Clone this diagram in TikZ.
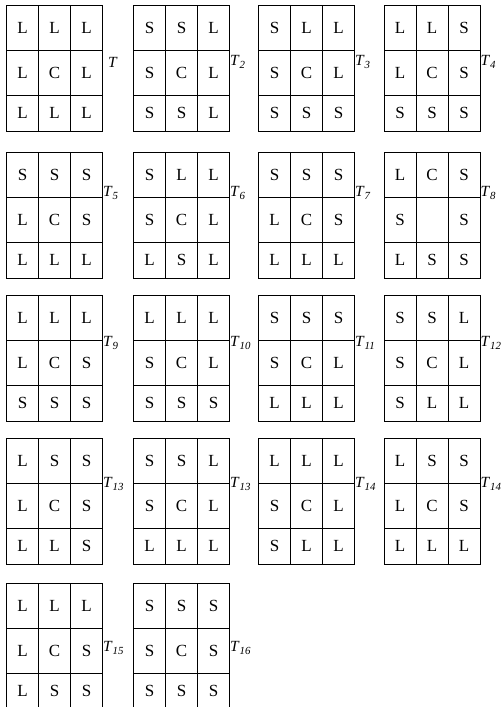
\documentclass[tikz,border=0pt]{standalone}
\usepackage{fontspec}
\setmainfont{Liberation Serif}
\tikzset{
  cell/.style={draw, line width=1pt, minimum width=32pt, inner sep=0pt, anchor=north west,
    font=\fontsize{17}{17}\selectfont},
  tlab/.style={anchor=west, inner sep=1pt, font=\fontsize{15.5}{15.5}\selectfont}
}
\newcommand\tlab[1]{\textit{T}\textsubscript{\textit{#1}}}
% #1 name, #2 x left, #3 y top, #4 row1, #5 row2, #6 row3, #7 label y offset, #8 label
\newcommand\tgrid[8]{%
  \foreach \t [count=\c] in {#4}
    \node[cell, minimum height=44.5pt] (#1-1-\c) at (#2+32*\c-32, -#3) {\t};
  \foreach \t [count=\c] in {#5}
    \node[cell, minimum height=45pt] (#1-2-\c) at (#2+32*\c-32, -#3-44.5) {\t};
  \foreach \t [count=\c] in {#6}
    \node[cell, minimum height=36.5pt] (#1-3-\c) at (#2+32*\c-32, -#3-89.5) {\t};
  \node[tlab] (#1-lab) at (#2+96, -#3-#7) {#8};
}
\begin{document}
\begin{tikzpicture}[x=1pt, y=1pt]
\useasboundingbox (0,0) rectangle (502,-707);
% row 1
\tgrid{g1}{6}{5}{L,L,L}{L,C,L}{L,L,L}{57}{\hspace{5pt}\textit{T}}
\tgrid{g2}{133}{5}{S,S,L}{S,C,L}{S,S,L}{57}{\tlab{2}}
\tgrid{g3}{258}{5}{S,L,L}{S,C,L}{S,S,S}{57}{\tlab{3}}
\tgrid{g4}{383.5}{5}{L,L,S}{L,C,S}{S,S,S}{57}{\tlab{4}}
% row 2
\tgrid{g5}{6}{152}{S,S,S}{L,C,S}{L,L,L}{41}{\tlab{5}}
\tgrid{g6}{133}{152}{S,L,L}{S,C,L}{L,S,L}{41}{\tlab{6}}
\tgrid{g7}{258}{152}{S,S,S}{L,C,S}{L,L,L}{41}{\tlab{7}}
\tgrid{g8}{383.5}{152}{L,C,S}{S,{},S}{L,S,S}{41}{\tlab{8}}
% row 3
\tgrid{g9}{6}{295}{L,L,L}{L,C,S}{S,S,S}{48}{\tlab{9}}
\tgrid{g10}{133}{295}{L,L,L}{S,C,L}{S,S,S}{48}{\tlab{10}}
\tgrid{g11}{258}{295}{S,S,S}{S,C,L}{L,L,L}{48}{\tlab{11}}
\tgrid{g12}{383.5}{295}{S,S,L}{S,C,L}{S,L,L}{48}{\tlab{12}}
% row 4
\tgrid{g13}{6}{438}{L,S,S}{L,C,S}{L,L,S}{46}{\tlab{13}}
\tgrid{g14}{133}{438}{S,S,L}{S,C,L}{L,L,L}{46}{\tlab{13}}
\tgrid{g15}{258}{438}{L,L,L}{S,C,L}{S,L,L}{46}{\tlab{14}}
\tgrid{g16}{383.5}{438}{L,S,S}{L,C,S}{L,L,L}{46}{\tlab{14}}
% row 5
\tgrid{g17}{6}{583}{L,L,L}{L,C,S}{L,S,S}{65}{\tlab{15}}
\tgrid{g18}{133}{583}{S,S,S}{S,C,S}{S,S,S}{65}{\tlab{16}}
\end{tikzpicture}
\end{document}
